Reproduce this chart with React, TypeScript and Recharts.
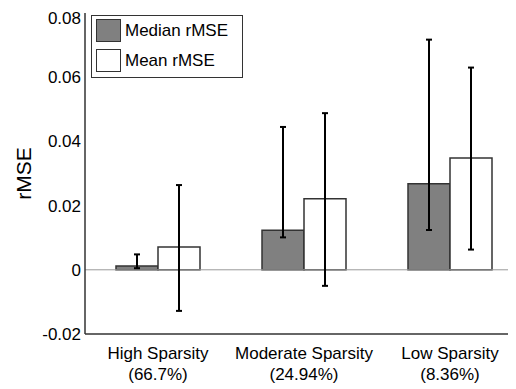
import React from "react";
import { BarChart, Bar, XAxis, YAxis, ErrorBar, ReferenceLine } from "recharts";

const categories = ["High Sparsity", "Moderate Sparsity", "Low Sparsity"];
const subLabels = ["(66.7%)", "(24.94%)", "(8.36%)"];
const medianValues = [0.0012, 0.0123, 0.0268];
const medianLow = [0.0005, 0.0101, 0.0124];
const medianHigh = [0.0048, 0.0445, 0.0717];
const meanValues = [0.0071, 0.0221, 0.0348];
const meanLow = [-0.0128, -0.005, 0.0063];
const meanHigh = [0.0264, 0.0488, 0.063];
const yTicks = [-0.02, 0, 0.02, 0.04, 0.06, 0.08];

const data = categories.map((c, i) => ({
  name: c,
  sub: subLabels[i],
  median: medianValues[i],
  medianErr: [medianValues[i] - medianLow[i], medianHigh[i] - medianValues[i]],
  mean: meanValues[i],
  meanErr: [meanValues[i] - meanLow[i], meanHigh[i] - meanValues[i]],
}));

const FONT = "'Liberation Sans', Arial, Helvetica, sans-serif";

const XTick = (props: any) => {
  const { x, y, payload, index } = props;
  return (
    <g>
      <text x={x} y={y + 23} textAnchor="middle" fontSize={17} fontFamily={FONT} fill="#000">
        {payload.value}
      </text>
      <text x={x} y={y + 44} textAnchor="middle" fontSize={17} fontFamily={FONT} fill="#000">
        {subLabels[index]}
      </text>
    </g>
  );
};

const LegendBox = () => (
  <div
    style={{
      position: "absolute",
      left: 83,
      top: 7,
      width: 152,
      height: 63,
      border: "1px solid #333",
      background: "#fff",
      fontFamily: FONT,
      fontSize: 17,
      boxSizing: "border-box",
    }}
  >
    <div style={{ position: "absolute", left: 4, top: 3, width: 25, height: 23, background: "#808080", border: "1px solid #333", boxSizing: "border-box" }} />
    <div style={{ position: "absolute", left: 33, top: 3, lineHeight: "23px" }}>Median rMSE</div>
    <div style={{ position: "absolute", left: 4, top: 33, width: 25, height: 23, background: "#fff", border: "1px solid #333", boxSizing: "border-box" }} />
    <div style={{ position: "absolute", left: 33, top: 33, lineHeight: "23px" }}>Mean rMSE</div>
  </div>
);

export default function App() {
  return (
    <div style={{ width: 508, height: 381, overflow: "hidden", position: "relative" }}>
      <BarChart
        width={515}
        height={381}
        data={data}
        margin={{ top: 5, right: 0, bottom: 8, left: 0 }}
        barGap={0}
        barCategoryGap={31}
      >
        <YAxis
          width={77}
          domain={[-0.02, 0.08]}
          ticks={yTicks}
          tickLine={false}
          tickSize={0}
          axisLine={{ stroke: "#333", strokeWidth: 1.5 }}
          tick={{ fontSize: 17, fontFamily: FONT, fill: "#000" }}
          tickFormatter={(v: number) => (v === 0 ? "0" : String(v))}
          tickMargin={4}
          label={{ value: "rMSE", angle: -90, position: "insideLeft", offset: 16, fontSize: 21, fontFamily: FONT, fill: "#000", style: { textAnchor: "middle" } }}
        />
        <XAxis
          dataKey="name"
          height={47}
          tickLine={false}
          tickSize={0}
          axisLine={{ stroke: "#333", strokeWidth: 1.5 }}
          tick={<XTick />}
          interval={0}
        />
        <ReferenceLine y={0} stroke="#999" strokeWidth={1} />
        <Bar dataKey="median" fill="#808080" stroke="#333" strokeWidth={1.5} isAnimationActive={false}>
          <ErrorBar dataKey="medianErr" width={3} strokeWidth={2} stroke="#000" isAnimationActive={false} />
        </Bar>
        <Bar dataKey="mean" fill="#fff" stroke="#333" strokeWidth={1.5} isAnimationActive={false}>
          <ErrorBar dataKey="meanErr" width={3} strokeWidth={2} stroke="#000" isAnimationActive={false} />
        </Bar>
      </BarChart>
      <LegendBox />
    </div>
  );
}
